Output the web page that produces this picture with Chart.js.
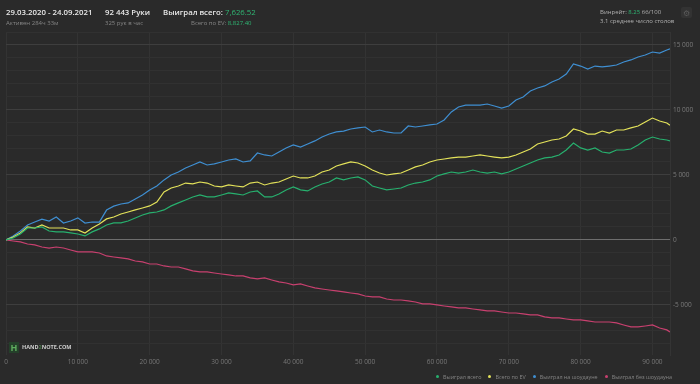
<!DOCTYPE html>
<html>
<head>
<meta charset="utf-8">
<script src="https://cdn.jsdelivr.net/npm/chart.js@4.4.1/dist/chart.umd.min.js"></script>
<style>
    html, body { margin: 0; padding: 0; background: #2a2a2a; }
    body { width: 700px; height: 384px; position: relative; overflow: hidden; font-family: "Open Sans", sans-serif; }
    #wrap { position: absolute; left: 0; top: 0; width: 700px; height: 384px; }
    .t { position: absolute; white-space: nowrap; }
    .big { font-size: 7.8px; font-weight: 600; color: #e8e8e8; }
    .small { font-size: 6px; color: #858585; }
    .green { color: #2fb673; }
    #gear { position: absolute; left: 681px; top: 7px; width: 11px; height: 11px; border-radius: 2px; background: #333; color: #5a5a5a; font-size: 8px; text-align: center; line-height: 11px; }
    #logo { position: absolute; left: 9px; top: 342px; font-size: 5.5px; font-weight: 700; color: #cfcfcf; }
    #logo span.ic { display: inline-block; width: 10px; height: 11px; background: #24402a; color: #5fae5f; font-size: 9px; line-height: 11px; text-align: center; vertical-align: middle; margin-right: 3px; }
    #leyenda { position: absolute; right: 28px; top: 373px; font-size: 5.4px; color: #858585; white-space: nowrap; }
    #leyenda span.it { margin-left: 7px; }
    #leyenda i { display: inline-block; width: 3px; height: 3px; border-radius: 50%; margin-right: 4px; vertical-align: middle; position: relative; top: -1px; }
</style>
</head>
<body>
<div id="wrap"><canvas id="grafico" width="700" height="384"></canvas></div>

<div class="t big" style="left:6px; top:7px;">29.03.2020 - 24.09.2021</div>
<div class="t small" style="left:6px; top:19px;">Активен 284ч 33м</div>
<div class="t big" style="left:105px; top:7px;">92 443 Руки</div>
<div class="t small" style="left:105px; top:19px;">325 рук в час</div>
<div class="t big" style="left:163px; top:7px;">Выиграл всего: <span class="green" style="font-weight:400">7,626.52</span></div>
<div class="t small" style="left:191px; top:19px;">Всего по EV: <span class="green">8,827.40</span></div>
<div class="t small" style="left:600px; top:8px; color:#b0b0b0;">Винрейт: <span class="green">8.25</span> 66/100</div>
<div class="t small" style="left:600px; top:17px; color:#b0b0b0;">3.1 среднее число столов</div>
<div id="gear">⚙</div>
<div id="logo"><span class="ic">H</span>HAND<span style="color:#4a7a4a">2</span>NOTE.COM</div>
<div id="leyenda"></div>

<script>
// Руки (ось X)
const manos = [
    0, 1000, 2000, 3000, 4000, 5000, 6000, 7000, 8000, 9000,
    10000, 11000, 12000, 13000, 14000, 15000, 16000, 17000, 18000, 19000,
    20000, 21000, 22000, 23000, 24000, 25000, 26000, 27000, 28000, 29000,
    30000, 31000, 32000, 33000, 34000, 35000, 36000, 37000, 38000, 39000,
    40000, 41000, 42000, 43000, 44000, 45000, 46000, 47000, 48000, 49000,
    50000, 51000, 52000, 53000, 54000, 55000, 56000, 57000, 58000, 59000,
    60000, 61000, 62000, 63000, 64000, 65000, 66000, 67000, 68000, 69000,
    70000, 71000, 72000, 73000, 74000, 75000, 76000, 77000, 78000, 79000,
    80000, 81000, 82000, 83000, 84000, 85000, 86000, 87000, 88000, 89000,
    90000, 91000, 92000, 92443
];

// Выиграл всего
const ganadoTotal = [
    0, 150, 460, 920, 920, 1000, 690, 620, 620, 540,
    460, 310, 620, 850, 1150, 1310, 1310, 1460, 1690, 1920,
    2080, 2150, 2310, 2620, 2850, 3080, 3310, 3460, 3310, 3310,
    3460, 3620, 3540, 3460, 3690, 3770, 3310, 3310, 3540, 3850,
    4080, 3850, 3770, 4080, 4310, 4460, 4770, 4620, 4770, 4850,
    4620, 4150, 4000, 3850, 3920, 4000, 4230, 4380, 4460, 4620,
    4920, 5080, 5230, 5150, 5230, 5380, 5230, 5150, 5230, 5080,
    5230, 5460, 5690, 5920, 6150, 6310, 6380, 6540, 6920, 7460,
    7080, 6920, 7080, 6770, 6690, 6920, 6920, 7000, 7310, 7690,
    7920, 7770, 7690, 7630
];

// Всего по EV
const totalEV = [
    0, 230, 540, 1000, 920, 1150, 920, 920, 920, 770,
    770, 540, 920, 1230, 1620, 1770, 2000, 2150, 2310, 2460,
    2620, 2920, 3690, 4000, 4150, 4380, 4310, 4460, 4380, 4150,
    4080, 4230, 4150, 4080, 4380, 4460, 4230, 4380, 4460, 4690,
    4920, 4770, 4770, 4920, 5230, 5380, 5690, 5850, 6000, 5920,
    5690, 5380, 5150, 5000, 5080, 5150, 5380, 5620, 5770, 6000,
    6150, 6230, 6310, 6380, 6380, 6460, 6540, 6460, 6380, 6310,
    6380, 6540, 6770, 7000, 7380, 7540, 7690, 7770, 8000, 8540,
    8380, 8150, 8150, 8380, 8230, 8460, 8460, 8620, 8770, 9080,
    9380, 9150, 9000, 8830
];

// Выиграл на шоудауне
const ganadoShowdown = [
    0, 300, 690, 1150, 1380, 1600, 1460, 1770, 1300, 1460,
    1700, 1300, 1380, 1380, 2300, 2600, 2770, 2850, 3150, 3460,
    3850, 4150, 4620, 5000, 5230, 5540, 5770, 6000, 5770, 5850,
    6000, 6150, 6230, 6000, 6080, 6690, 6540, 6460, 6770, 7080,
    7310, 7150, 7380, 7620, 7920, 8150, 8310, 8380, 8540, 8620,
    8690, 8310, 8460, 8310, 8230, 8230, 8770, 8690, 8770, 8850,
    8920, 9230, 9850, 10230, 10380, 10380, 10380, 10460, 10310, 10150,
    10310, 10770, 11000, 11460, 11690, 11850, 12150, 12380, 12770, 13540,
    13380, 13150, 13380, 13310, 13380, 13460, 13690, 13850, 14080, 14230,
    14460, 14380, 14620, 14710
];

// Выиграл без шоудауна
const ganadoSinShowdown = [
    0, -80, -150, -310, -380, -540, -620, -540, -620, -770,
    -920, -920, -920, -1000, -1230, -1310, -1380, -1460, -1620, -1690,
    -1850, -1850, -2000, -2080, -2080, -2230, -2380, -2460, -2460, -2540,
    -2620, -2690, -2770, -2770, -2920, -3000, -2920, -3080, -3230, -3310,
    -3460, -3380, -3540, -3690, -3770, -3850, -3920, -4000, -4080, -4150,
    -4310, -4380, -4380, -4540, -4620, -4620, -4690, -4770, -4920, -4920,
    -5000, -5080, -5150, -5230, -5230, -5310, -5380, -5460, -5460, -5540,
    -5620, -5620, -5690, -5770, -5770, -5920, -6000, -6000, -6080, -6150,
    -6150, -6230, -6310, -6310, -6310, -6380, -6540, -6690, -6690, -6620,
    -6540, -6770, -6920, -7080
];

const nombresSeries = ["Выиграл всего", "Всего по EV", "Выиграл на шоудауне", "Выиграл без шоудауна"];
const coloresSeries = ["#27b06e", "#e3e25a", "#3f8fd2", "#c8406f"];

const ticksX = [0, 10000, 20000, 30000, 40000, 50000, 60000, 70000, 80000, 90000];
const ticksY = [-8000, -7000, -6000, -5000, -4000, -3000, -2000, -1000, 0, 1000, 2000, 3000, 4000,
    5000, 6000, 7000, 8000, 9000, 10000, 11000, 12000, 13000, 14000, 15000, 16000];

// Формат "15 000"
function formato(v) {
    const s = Math.abs(v).toString().replace(/\B(?=(\d{3})+(?!\d))/g, " ");
    return (v < 0 ? "-" : "") + s;
}

function puntos(valores) {
    return valores.map((v, i) => ({ x: manos[i], y: v }));
}

const series = [ganadoTotal, totalEV, ganadoShowdown, ganadoSinShowdown];

// Легенда
document.getElementById("leyenda").innerHTML = nombresSeries
    .map((n, i) => `<span class="it"><i style="background:${coloresSeries[i]}"></i>${n}</span>`)
    .join("");

const ctx = document.getElementById("grafico").getContext("2d");

new Chart(ctx, {
    type: "line",
    data: {
        datasets: series.map((s, i) => ({
            label: nombresSeries[i],
            data: puntos(s),
            borderColor: coloresSeries[i],
            backgroundColor: coloresSeries[i],
            borderWidth: 1.2,
            pointRadius: 0,
            tension: 0
        }))
    },
    options: {
        responsive: false,
        animation: false,
        events: [],
        layout: { padding: { top: 32, left: 6, right: 0, bottom: 17 } },
        plugins: {
            tooltip: { enabled: false },
            legend: { display: false }
        },
        scales: {
            x: {
                type: "linear",
                min: 0,
                max: 92443,
                afterBuildTicks: (axis) => { axis.ticks = ticksX.map(v => ({ value: v })); },
                afterFit: (axis) => { axis.height = 12; },
                grid: { color: "#333333", drawTicks: false },
                border: { display: false },
                ticks: {
                    color: "#777777",
                    font: { family: "Open Sans", size: 6.5 },
                    padding: 3,
                    maxRotation: 0,
                    callback: (v) => formato(v)
                }
            },
            y: {
                position: "right",
                min: -8850,
                max: 16000,
                afterBuildTicks: (axis) => { axis.ticks = ticksY.map(v => ({ value: v })); },
                afterFit: (axis) => { axis.width = 30; },
                grid: {
                    drawTicks: false,
                    color: (c) => {
                        const v = c.tick ? c.tick.value : 1;
                        if (v === 0) return "#6e6e6e";
                        if (v % 5000 === 0) return "#3e3e3e";
                        return "#313131";
                    }
                },
                border: { display: true, color: "#343434" },
                ticks: {
                    color: "#7a7a7a",
                    font: { family: "Open Sans", size: 6.5 },
                    padding: 3,
                    autoSkip: false,
                    callback: (v) => (v % 5000 === 0 ? formato(v) : "")
                }
            }
        }
    }
});
</script>
</body>
</html>
